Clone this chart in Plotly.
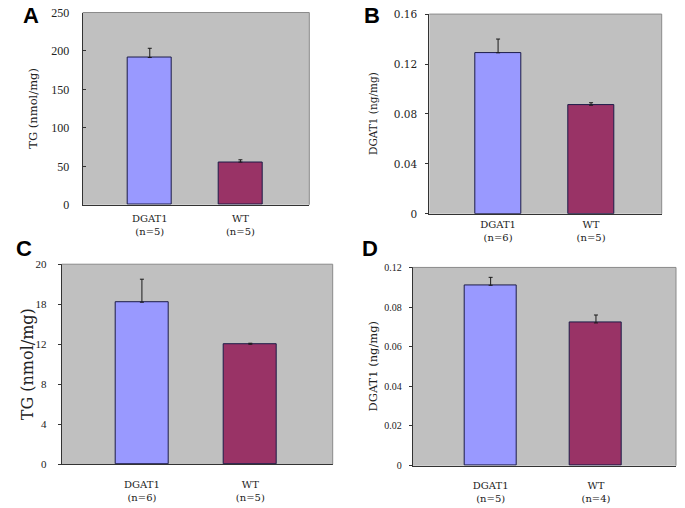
import plotly.graph_objects as go

# ---- data ----
groups = ["DGAT1", "WT"]
n_A = ["(n=5)", "(n=5)"]
n_B = ["(n=6)", "(n=5)"]
n_C = ["(n=6)", "(n=5)"]
n_D = ["(n=5)", "(n=4)"]

tg_A = [191.5, 55.5]
tg_A_err = [12.0, 3.0]

dgat_B = [0.129, 0.087]
dgat_B_err = [0.011, 0.002]

tg_C = [16.2, 12.0]
tg_C_err = [2.3, 0.1]
tickvals_C = [0, 4, 8, 12, 16, 20]
ticktext_C = ["0", "4", "8", "12", "18", "20"]

dgat_D = [0.091, 0.072]
dgat_D_err = [0.004, 0.004]
tickvals_D = [0, 0.02, 0.04, 0.06, 0.08, 0.10]
ticktext_D = ["0", "0.02", "0.04", "0.06", "0.08", "0.12"]

tickvals_A = [0, 50, 100, 150, 200, 250]
tickvals_B = [0, 0.04, 0.08, 0.12, 0.16]
ticktext_B = ["0", "0.04", "0.08", "0.12", "0.16"]

# ---- style ----
W, H = 685, 508
bar_colors = ["#9999ff", "#993366"]
serif = "Liberation Serif, Times New Roman, serif"
wide_serif = "DejaVu Serif, serif"
plot_bg = "#c0c0c0"

def px_x(v):
    return v / W

def px_y(v):
    return (H - v) / H

panels = [
    dict(vals=tg_A, err=tg_A_err, n=n_A, dom=(82.7, 309.3, 6.7, 204), yr=[0, 250],
         tv=tickvals_A, tt=[str(v) for v in tickvals_A], title="TG (nmol/mg)", tsize=11.5, tx=33,
         letter="A", lpos=(30.5, 9.5), tickdir="inside", tff=serif, tfs=12, lstand=10, xstand=4),
    dict(vals=dgat_B, err=dgat_B_err, n=n_B, dom=(429.3, 661.7, 8.3, 213.3), yr=[0, 0.16],
         tv=tickvals_B, tt=ticktext_B, title="DGAT1 (ng/mg)", tsize=10.5, tx=373,
         letter="B", lpos=(372.5, 9.5), tickdir="outside", tff=wide_serif, tfs=10.5, lstand=6, xstand=1),
    dict(vals=tg_C, err=tg_C_err, n=n_C, dom=(61.7, 332.7, 265, 470.3), yr=[0, 20],
         tv=tickvals_C, tt=ticktext_C, title="TG (nmol/mg)", tsize=16, tx=27,
         letter="C", lpos=(23.7, 248.5), tickdir="outside", tff=serif, tfs=11, lstand=9, xstand=11),
    dict(vals=dgat_D, err=dgat_D_err, n=n_D, dom=(412.7, 676, 268.3, 471.7), yr=[0, 0.10],
         tv=tickvals_D, tt=ticktext_D, title="DGAT1 (ng/mg)", tsize=11.5, tx=373,
         letter="D", lpos=(370, 248.5), tickdir="outside", tff=serif, tfs=10, lstand=5, xstand=10),
]

fig = go.Figure()
annotations = []
shapes = []
layout = {}

for i, p in enumerate(panels):
    k = "" if i == 0 else str(i + 1)
    xa, ya = "x" + k, "y" + k
    l, r, t, b = p["dom"]
    fig.add_trace(go.Bar(
        x=[0, 1], y=p["vals"], width=0.49,
        marker=dict(color=bar_colors, line=dict(color="#1c1c48", width=1)),
        error_y=dict(type="data", symmetric=False, array=p["err"], arrayminus=[0, 0],
                     color="#1a1a1a", thickness=1, width=2),
        xaxis=xa, yaxis=ya, showlegend=False,
    ))
    layout["xaxis" + k] = dict(
        domain=[px_x(l), px_x(r)], anchor=ya, range=[-0.74, 1.76],
        tickvals=[0, 1],
        ticktext=[f"{g}<br>{n}" for g, n in zip(groups, p["n"])],
        tickfont=dict(family=wide_serif, size=10, color="#222"),
        ticklabelstandoff=p["xstand"],
        showline=True, linecolor="#333", linewidth=1, ticks="",
        showgrid=False, zeroline=False, fixedrange=True,
    )
    layout["yaxis" + k] = dict(
        domain=[px_y(b), px_y(t)], anchor=xa, range=p["yr"],
        tickvals=p["tv"], ticktext=p["tt"],
        tickfont=dict(family=p["tff"], size=p["tfs"], color="#222"),
        showline=True, linecolor="#333", linewidth=1,
        ticks=p["tickdir"], ticklen=3, tickcolor="#333",
        ticklabelstandoff=p["lstand"],
        showgrid=False, zeroline=False, fixedrange=True,
    )
    shapes.append(dict(type="rect", xref=xa + " domain", yref=ya + " domain",
                       x0=0, x1=1, y0=0, y1=1, fillcolor=plot_bg,
                       line=dict(width=0), layer="below"))
    shapes.append(dict(type="line", xref=xa + " domain", yref=ya + " domain",
                       x0=0, x1=1, y0=1, y1=1, line=dict(color="#8a8a8a", width=1)))
    shapes.append(dict(type="line", xref=xa + " domain", yref=ya + " domain",
                       x0=1, x1=1, y0=0, y1=1, line=dict(color="#8a8a8a", width=1)))
    annotations.append(dict(
        text=p["title"], xref="paper", yref="paper",
        x=px_x(p["tx"]), y=px_y((t + b) / 2), textangle=-90,
        showarrow=False, xanchor="center", yanchor="middle",
        font=dict(family=wide_serif, size=p["tsize"], color="#222"),
    ))
    annotations.append(dict(
        text="<b>" + p["letter"] + "</b>", xref="paper", yref="paper",
        x=px_x(p["lpos"][0]), y=px_y(p["lpos"][1]),
        showarrow=False, xanchor="center", yanchor="middle",
        font=dict(family="Liberation Sans, Arial, sans-serif", size=22, color="#000"),
    ))

fig.update_layout(
    width=W, height=H,
    margin=dict(l=0, r=0, t=0, b=0),
    paper_bgcolor="white", plot_bgcolor="rgba(0,0,0,0)",
    annotations=annotations, shapes=shapes,
    bargap=0,
    **layout,
)

fig.write_html(
    "out.html",
    config={"displayModeBar": False},
    post_script="document.body.style.margin='0';document.body.style.overflow='hidden';",
)
